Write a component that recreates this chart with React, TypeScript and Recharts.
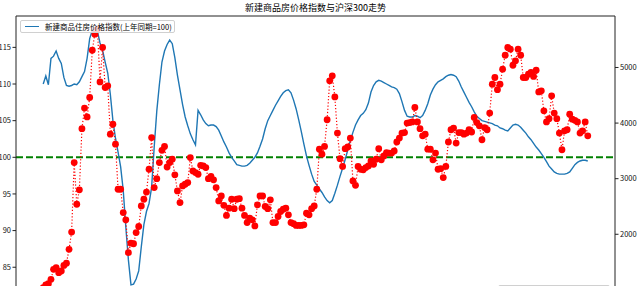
import React from 'react';
import { ComposedChart, Line, XAxis, YAxis, ReferenceLine } from 'recharts';

const FONT = '"Noto Sans CJK SC", "DejaVu Sans", sans-serif';

const title = '新建商品房价格指数与沪深300走势';
const blueName = '新建商品住房价格指数(上年同期=100)';
const redName = '沪深300';

const startYear = 2006;

// 新建商品住房价格指数 (left axis), monthly from 2006-01
const priceIndex = [
  110.0, 111.1, 109.9, 113.5, 113.8, 114.5, 113.5, 112.8, 110.9, 109.8, 109.7, 109.8,
  110.0, 109.9, 110.3, 111.0, 111.7, 113.5, 116.2, 117.3, 117.5, 117.2, 115.6, 114.6,
  113.0, 111.5, 108.6, 105.0, 102.6, 100.7, 98.7, 95.5, 90.5, 86.0, 82.6, 82.7,
  83.4, 84.5, 87.8, 90.8, 92.6, 93.7, 95.9, 101.4, 106.3, 109.9, 113.0, 114.5,
  115.4, 116.0, 115.5, 113.6, 111.2, 109.2, 107.2, 105.5, 104.3, 103.2, 102.4, 101.7,
  106.4, 105.8, 105.1, 104.6, 104.3, 104.4, 104.4, 104.2, 103.7, 102.9, 102.1, 101.4,
  100.6, 100.0, 99.5, 99.0, 98.9, 98.8, 98.8, 98.9, 99.2, 99.6, 100.0, 100.6,
  101.5, 102.5, 103.9, 105.0, 105.7, 106.4, 107.1, 107.7, 108.3, 108.8, 109.1, 109.2,
  108.8, 107.8, 106.6, 105.1, 103.5, 101.8, 100.2, 98.9, 97.7, 96.7, 96.2, 95.7,
  95.2, 94.6, 94.1, 93.8, 94.1, 95.1, 96.2, 97.4, 98.5, 99.7, 101.0, 102.3,
  103.4, 104.4, 105.1, 105.7, 106.0, 106.5, 107.4, 108.9, 109.8, 110.3, 110.5, 110.4,
  110.2, 110.0, 109.8, 109.6, 109.5, 109.3, 108.7, 107.6, 106.4, 105.6, 105.5, 105.5,
  105.7, 105.6, 105.4, 105.7, 106.4, 107.3, 108.5, 109.3, 109.9, 110.3, 110.5, 110.7,
  111.0, 111.2, 111.3, 111.2, 111.0, 110.4, 109.6, 108.9, 108.2, 107.5, 106.9, 106.2,
  105.6, 105.3, 105.0, 104.9, 104.8, 104.7, 104.6, 104.4, 104.3, 104.0, 103.9, 103.7,
  103.6, 104.0, 104.4, 104.5, 104.4, 104.1, 103.7, 103.3, 102.8, 102.4, 101.9, 101.4,
  101.0, 100.5, 100.0, 99.4, 98.8, 98.4, 98.0, 97.8, 97.7, 97.7, 97.7, 97.8,
  98.0, 98.5, 99.0, 99.3, 99.5, 99.6, 99.6, 99.5,
];

// 沪深300 (right axis), monthly from 2006-01
const hs300 = [
  1040, 1090, 1110, 1190, 1370, 1400, 1310, 1340, 1440, 1480, 1730, 2040,
  3290, 2540, 2800, 3900, 4270, 4110, 4460, 5310, 5600, 5690, 4740, 5360,
  4640, 4670, 3800, 3980, 3620, 2810, 2810, 2390, 2260, 1670, 1840, 1830,
  2030, 2140, 2510, 2630, 2760, 3170, 3740, 2840, 3000, 3290, 3510, 3580,
  3210, 3290, 3350, 3070, 2780, 2570, 2870, 2900, 2930, 3380, 3140, 3110,
  3080, 3240, 3230, 3200, 3000, 3040, 2980, 2840, 2600, 2690, 2520, 2340,
  2470, 2630, 2460, 2630, 2640, 2470, 2340, 2210, 2290, 2260, 2150, 2530,
  2690, 2690, 2500, 2460, 2620, 2210, 2210, 2320, 2410, 2450, 2470, 2350,
  2210, 2190, 2160, 2160, 2160, 2170, 2380, 2350, 2460, 2510, 2810, 3530,
  3440, 3580, 4060, 4760, 4850, 4470, 3820, 3360, 3220, 3540, 3570, 3730,
  2960, 2880, 3220, 3170, 3160, 3200, 3230, 3320, 3260, 3350, 3540, 3340,
  3410, 3470, 3460, 3460, 3500, 3660, 3730, 3820, 3830, 4000, 4010, 4020,
  4280, 4020, 3900, 3770, 3800, 3530, 3530, 3340, 3460, 3170, 3180, 3020,
  3220, 3660, 3880, 3910, 3640, 3830, 3830, 3800, 3820, 3880, 3840, 4100,
  4010, 3950, 3700, 3920, 3880, 4180, 4700, 4820, 4600, 4700, 4970, 5220,
  5360, 5330, 5040, 5120, 5330, 5220, 4820, 4820, 4880, 4910, 4840, 4950,
  4560, 4580, 4220, 4020, 4080, 4490, 4180, 4080, 3820, 3520, 3860, 3880,
  4160, 4070, 4050, 4020, 3820, 3860, 4020, 3770,
];

const leftTicks = [85, 90, 95, 100, 105, 110, 115];
const rightTicks = [2000, 3000, 4000, 5000];

const months = priceIndex.map((_, k) => {
  const y = startYear + Math.floor(k / 12);
  const m = (k % 12) + 1;
  return `${y}-${m < 10 ? '0' + m : m}`;
});

const data = months.map((month, k) => ({
  i: k,
  month,
  blue: priceIndex[k],
  red: hs300[k],
}));

const N = data.length - 1;
const xDomain = [-0.05 * N, 1.05 * N];
const leftDomain = [80.12, 119.28];
const rightDomain = [764, 5926];

const tickStyle = { fontSize: 7.5, fill: '#111', fontFamily: FONT };

export default function App() {
  return (
    <div style={{ position: 'absolute', left: 0, top: 0, width: 640, height: 310, background: '#fff', overflow: 'hidden' }}>
      <div
        style={{
          position: 'absolute', left: 16, width: 599, top: 2, textAlign: 'center',
          fontFamily: FONT, fontSize: 9, lineHeight: '12px', color: '#000',
        }}
      >
        {title}
      </div>
      <ComposedChart width={640} height={310} data={data} margin={{ top: 16, right: 0, bottom: 7, left: 0 }}>
        <XAxis xAxisId="x" type="number" dataKey="i" domain={xDomain} hide allowDataOverflow />
        <YAxis
          yAxisId="left" orientation="left" width={16} domain={leftDomain} ticks={leftTicks}
          allowDataOverflow interval={0} tick={tickStyle} tickSize={3.5} tickMargin={1.5}
          axisLine={{ stroke: '#222', strokeWidth: 1 }} tickLine={{ stroke: '#222' }}
        />
        <YAxis
          yAxisId="right" orientation="right" width={25} domain={rightDomain} ticks={rightTicks}
          allowDataOverflow interval={0} tick={tickStyle} tickSize={3.5} tickMargin={1.5}
          axisLine={{ stroke: '#222', strokeWidth: 1 }} tickLine={{ stroke: '#222' }}
        />
        <ReferenceLine xAxisId="x" yAxisId="left" y={leftDomain[1]} stroke="#222" strokeWidth={1} />
        <ReferenceLine xAxisId="x" yAxisId="left" y={100} stroke="#008000" strokeWidth={2} strokeDasharray="7 3" />
        <Line
          xAxisId="x" yAxisId="left" dataKey="blue" name={blueName} stroke="#1f77b4" strokeWidth={1.4}
          dot={false} isAnimationActive={false}
        />
        <Line
          xAxisId="x" yAxisId="right" dataKey="red" name={redName} stroke="#ff0000" strokeWidth={1.2}
          strokeDasharray="1.2 2" dot={{ r: 3.4, fill: '#ff0000', stroke: 'none' }} isAnimationActive={false}
        />
      </ComposedChart>
      <div
        style={{
          position: 'absolute', left: 20, top: 20, width: 155, height: 13, boxSizing: 'border-box',
          border: '1px solid #d0d0d0', borderRadius: 2, background: 'rgba(255,255,255,0.8)',
          fontFamily: FONT, fontSize: 7.5, lineHeight: '11px', color: '#000', whiteSpace: 'nowrap',
        }}
      >
        <span style={{ position: 'absolute', left: 4, top: 5, width: 14, height: 0, borderTop: '1.4px solid #1f77b4' }} />
        <span style={{ position: 'absolute', left: 24, top: 0 }}>{blueName}</span>
      </div>
      <div
        aria-label={redName}
        style={{
          position: 'absolute', left: 498, top: 285, width: 112, height: 14, boxSizing: 'border-box',
          border: '1px solid #d0d0d0', borderRadius: 2, background: 'rgba(255,255,255,0.8)',
        }}
      />
    </div>
  );
}
